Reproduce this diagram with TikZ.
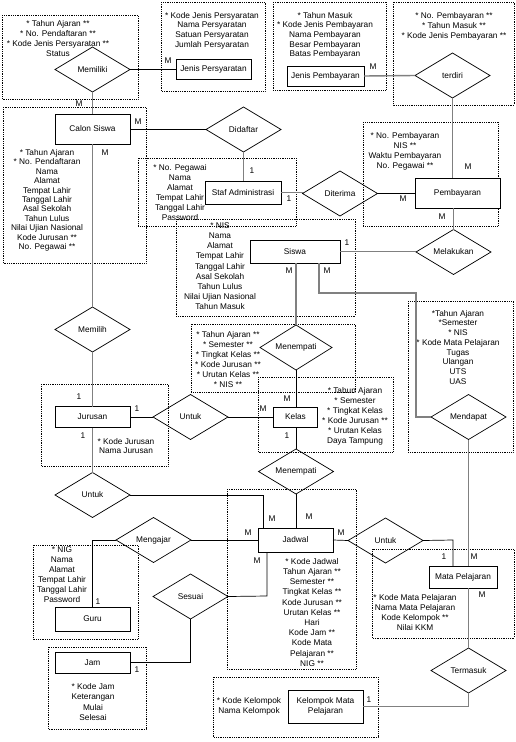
\documentclass[tikz,border=0pt]{standalone}
\usepackage{fontspec}
\setmainfont{Liberation Sans}
\usetikzlibrary{shapes.geometric}
\definecolor{lg}{RGB}{128,128,128}
\newcommand{\fl}{\rule{0pt}{6.3pt}}
\begin{document}
\begin{tikzpicture}[x=1pt,y=-1pt,
  ent/.style={draw, line width=0.9pt, fill=white, inner sep=0pt, outer sep=0pt, font=\fontsize{8.3}{10}\selectfont, align=center},
  rel/.style={diamond, draw, line width=0.7pt, aspect=1.667, minimum width=75pt, minimum height=45pt, inner sep=0pt, outer sep=0pt, font=\fontsize{8.3}{10}\selectfont},
  attr/.style={font=\fontsize{8.3}{#1}\selectfont, align=center, inner sep=0pt, anchor=north},
  attr/.default=10pt,
  card/.style={font=\fontsize{8.3}{10}\selectfont, inner sep=0pt},
  gline/.style={draw=lg, line width=1.4pt},
  bline/.style={draw=black, line width=0.7pt},
  dotbox/.style={draw, line width=0.6pt, dash pattern=on 0.6pt off 1.2pt}
]
\useasboundingbox (0,0) rectangle (516,742);

% dotted attribute boxes
\draw[dotbox] (2,15) rectangle (138,99);
\draw[dotbox] (161,2) rectangle (265,91);
\draw[dotbox] (273,2) rectangle (386,90);
\draw[dotbox] (393,2) rectangle (514,105);
\draw[dotbox] (3,107) rectangle (146,263);
\draw[dotbox] (138,158) rectangle (296,226);
\draw[dotbox] (363,122) rectangle (498,226);
\draw[dotbox] (176,219) rectangle (355,316);
\draw[dotbox] (191,324) rectangle (355,392);
\draw[dotbox] (258,377) rectangle (393,452);
\draw[dotbox] (41,384) rectangle (168,466);
\draw[dotbox] (408,301) rectangle (513,452);
\draw[dotbox] (227,489) rectangle (356,669);
\draw[dotbox] (372,549) rectangle (514,638);
\draw[dotbox] (33,545) rectangle (138,639);
\draw[dotbox] (48,647) rectangle (146,729);
\draw[dotbox] (213,677) rectangle (378,737);

% attribute texts
\node[attr=10pt] (a1) at (58,19.7) {\fl* Tahun Ajaran **\\* No. Pendaftaran **\\* Kode Jenis Persyaratan **\\Status};
\node[attr=9.7pt] (a2) at (212,11.7) {\fl* Kode Jenis Persyaratan\\Nama Persyaratan\\Satuan Persyaratan\\Jumlah Persyaratan};
\node[attr=9.6pt] (a3) at (325,11.7) {\fl* Tahun Masuk\\* Kode Jenis Pembayaran\\Nama Pembayaran\\Besar Pembayaran\\Batas Pembayaran};
\node[attr=10pt] (a4) at (454,11.7) {\fl* No. Pembayaran **\\* Tahun Masuk **\\* Kode Jenis Pembayaran **};
\node[attr=9.45pt] (a5) at (47,148.7) {\fl* Tahun Ajaran\\* No. Pendaftaran\\Nama\\Alamat\\Tempat Lahir\\Tanggal Lahir\\Asal Sekolah\\Tahun Lulus\\Nilai Ujian Nasional\\Kode Jurusan **\\No. Pegawai **};
\node[attr=10pt] (a6) at (180,163.7) {\fl* No. Pegawai\\Nama\\Alamat\\Tempat Lahir\\Tanggal Lahir\\Password};
\node[attr=10pt] (a7) at (405,132.4) {\fl* No. Pembayaran\\NIS **\\Waktu Pembayaran\\No. Pegawai **};
\node[attr=10.2pt] (a8) at (220,221.7) {\fl* NIS\\Nama\\Alamat\\Tempat Lahir\\Tanggal Lahir\\Asal Sekolah\\Tahun Lulus\\Nilai Ujian Nasional\\Tahun Masuk};
\node[attr=10pt] (a9) at (228,330.7) {\fl* Tahun Ajaran **\\* Semester **\\* Tingkat Kelas **\\* Kode Jurusan **\\* Urutan Kelas **\\* NIS **};
\node[attr=9.9pt] (a10) at (355,387.4) {\fl* Tahun Ajaran\\* Semester\\* Tingkat Kelas\\* Kode Jurusan **\\* Urutan Kelas\\Daya Tampung};
\node[attr=9.7pt] (a11) at (126,437.7) {\fl* Kode Jurusan\\Nama Jurusan};
\node[attr=9.7pt] (a12) at (458,309.7) {\fl*Tahun Ajaran\\*Semester\\* NIS\\* Kode Mata Pelajaran\\Tugas\\Ulangan\\UTS\\UAS};
\node[attr=10.2pt] (a13) at (312,557.7) {\fl* Kode Jadwal\\Tahun Ajaran **\\Semester **\\Tingkat Kelas **\\Kode Jurusan **\\Urutan Kelas **\\Hari\\Kode Jam **\\Kode Mata\\Pelajaran **\\NIG **};
\node[attr=10pt] (a14) at (415,593.7) {\fl* Kode Mata Pelajaran\\Nama Mata Pelajaran\\Kode Kelompok **\\Nilai KKM};
\node[attr=10.1pt] (a15) at (62,545.7) {\fl* NIG\\Nama\\Alamat\\Tempat Lahir\\Tanggal Lahir\\Password};
\node[attr=10.5pt] (a16) at (93,682.7) {\fl* Kode Jam\\Keterangan\\Mulai\\Selesai};
\node[attr=10pt] (a17) at (249,696.7) {\fl* Kode Kelompok\\Nama Kelompok};

% entities
\node[ent, minimum width=75pt, minimum height=20pt] (jp) at (213.5,69.5) {Jenis Persyaratan};
\node[ent, minimum width=77pt, minimum height=20pt] (jpb) at (325.5,76) {Jenis Pembayaran};
\node[ent, minimum width=75pt, minimum height=30pt] (cs) at (92.5,129) {Calon Siswa};
\node[ent, minimum width=76pt, minimum height=23pt] (staf) at (243,192.5) {Staf Administrasi};
\node[ent, minimum width=85pt, minimum height=30pt] (pemb) at (457.5,193) {Pembayaran};
\node[ent, minimum width=90pt, minimum height=23pt] (siswa) at (295,251.5) {Siswa};
\node[ent, minimum width=75pt, minimum height=21pt] (jur) at (92.5,417) {Jurusan};
\node[ent, minimum width=44pt, minimum height=20pt] (kelas) at (295.5,417) {Kelas};
\node[ent, minimum width=75pt, minimum height=24pt] (jadwal) at (295.5,540) {Jadwal};
\node[ent, minimum width=75pt, minimum height=24pt] (guru) at (92.5,619) {Guru};
\node[ent, minimum width=75pt, minimum height=21pt] (jam) at (92.5,662.5) {Jam};
\node[ent, minimum width=68pt, minimum height=22pt] (mapel) at (463,577) {Mata Pelajaran};
\node[ent, minimum width=75pt, minimum height=33pt] (kmp) at (325.5,706.5) {Kelompok Mata\\Pelajaran};

% relationships
\node[rel] (memiliki) at (92.5,69.5) {Memiliki};
\node[rel] (terdiri) at (452.5,75.5) {terdiri};
\node[rel] (didaftar) at (243.5,129.5) {Didaftar};
\node[rel] (diterima) at (340,193.5) {Diterima};
\node[rel] (melakukan) at (453.5,252) {Melakukan};
\node[rel] (memilih) at (92.5,329.5) {Memilih};
\node[rel, minimum width=72pt] (menempati1) at (296,347.5) {Menempati};
\node[rel] (untuk1) at (190.5,417) {Untuk};
\node[rel] (mendapat) at (468.5,417) {Mendapat};
\node[rel] (untuk2) at (92.5,495) {Untuk};
\node[rel] (menempati2) at (296,471.5) {Menempati};
\node[rel] (mengajar) at (153.5,540) {Mengajar};
\node[rel] (untuk3) at (385.5,540.5) {Untuk};
\node[rel] (sesuai) at (190.5,596.5) {Sesuai};
\node[rel] (termasuk) at (468.5,670.5) {Termasuk};

% helper coordinates
\coordinate (sm1) at (319,293);
\coordinate (sm2) at (416,293);
\coordinate (uj) at (263,495);
\coordinate (js) at (267,596);
\coordinate (um) at (453,540);

% connectors
\draw[gline] (memiliki.south) -- (cs.north);
\draw[bline] (memiliki.east) -- (jp.west);
\draw[gline] (jpb.east) -- (terdiri.west);
\draw[gline] (terdiri.south) -- (terdiri.south |- pemb.north);
\draw[bline] (cs.east) -- (cs.east -| didaftar.west);
\draw[gline] (didaftar.south |- didaftar.south) -- (didaftar.south |- staf.north);
\draw[gline] (staf.east) -- (staf.east -| diterima.west);
\draw[bline] (diterima.east) -- (diterima.east -| pemb.west);
\draw[gline] (melakukan.north |- pemb.south) -- (melakukan.north);
\draw[gline] (siswa.east) -- (siswa.east -| melakukan.west);
\draw[gline] (menempati1.north |- siswa.south) -- (menempati1.north);
\draw[gline] (sm1 |- siswa.south) -- (sm1) -- (sm2) |- (mendapat.west);
\draw[gline] (cs.south) -- (memilih.north);
\draw[gline] (memilih.south) -- (jur.north);
\draw[bline] (jur.east) -- (untuk1.west);
\draw[bline] (untuk1.east) -- (kelas.west);
\draw[bline] (menempati1.south) -- (menempati1.south |- kelas.north);
\draw[bline] (menempati2.north |- kelas.south) -- (menempati2.north);
\draw[bline] (menempati2.south) -- (menempati2.south |- jadwal.north);
\draw[gline] (jur.south) -- (untuk2.north);
\draw[bline] (untuk2.east) -- (uj) -- (uj |- jadwal.north);
\draw[bline] (jadwal.west) -- (mengajar.east);
\draw[bline] (mengajar.west) -| (guru.north);
\draw[bline] (js |- jadwal.south) -- (js) -- (sesuai.east);
\draw[bline] (sesuai.south) |- (jam.east);
\draw[bline] (jadwal.east) -- (untuk3.west);
\draw[bline] (untuk3.east) -- (um) -- (um |- mapel.north);
\draw[gline] (mendapat.south) -- (mendapat.south |- mapel.north);
\draw[gline] (termasuk.north |- mapel.south) -- (termasuk.north);
\draw[gline] (termasuk.south) |- (kmp.east);

% cardinalities
\node[card] (c1) at (79,104) {M};
\node[card] (c2) at (168,61) {M};
\node[card] (c3) at (373,67) {M};
\node[card] (c4) at (138,122) {M};
\node[card] (c5) at (105,153) {M};
\node[card] (c6) at (252,171) {1};
\node[card] (c7) at (289,199) {1};
\node[card] (c8) at (403,199) {M};
\node[card] (c9) at (468,167) {M};
\node[card] (c10) at (442,217) {M};
\node[card] (c11) at (347,243) {1};
\node[card] (c12) at (289,271) {M};
\node[card] (c13) at (327,271) {M};
\node[card] (c14) at (79,397) {1};
\node[card] (c15) at (137,409) {1};
\node[card] (c16) at (83,436) {1};
\node[card] (c17) at (287,399) {M};
\node[card] (c18) at (263,409) {M};
\node[card] (c19) at (287,436) {1};
\node[card] (c20) at (272,519) {M};
\node[card] (c21) at (309,517) {M};
\node[card] (c22) at (248,533) {M};
\node[card] (c23) at (341,533) {M};
\node[card] (c24) at (257,561) {M};
\node[card] (c25) at (98,602) {1};
\node[card] (c26) at (137,670) {1};
\node[card] (c27) at (444,557) {1};
\node[card] (c28) at (474,557) {M};
\node[card] (c29) at (482,595) {M};
\node[card] (c30) at (369,700) {1};
\end{tikzpicture}
\end{document}
